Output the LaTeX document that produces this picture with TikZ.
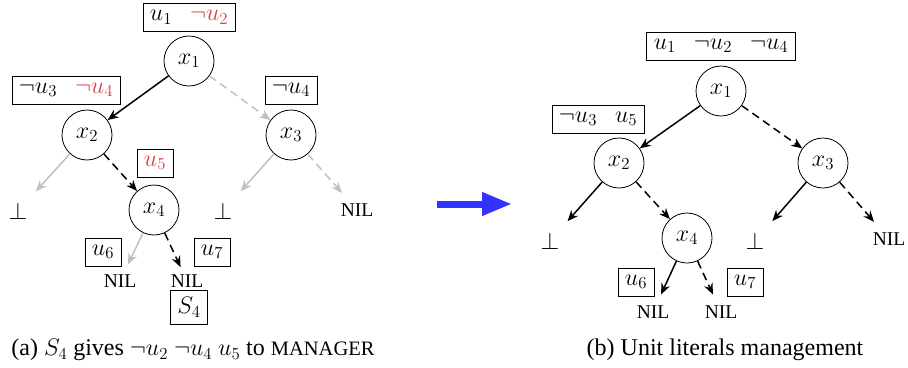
\documentclass[tikz,border=0pt]{standalone}
\usepackage{fix-cm}
\usepackage[no-math]{fontspec}
\setmainfont{Liberation Serif}
\usetikzlibrary{arrows.meta}
\definecolor{myred}{RGB}{214,64,72}
\definecolor{mygray}{RGB}{192,192,192}
\definecolor{myblue}{RGB}{51,51,255}
\newcommand\smallcapsfake[1]{{\fontsize{19.5}{22}\selectfont #1}}
\newcommand\gapsp{\hspace{0.75em}}
\begin{document}
\begin{tikzpicture}[x=1pt,y=-1pt,
  font=\fontsize{24}{28}\selectfont,
  var/.style={circle,draw,line width=0.8pt,minimum size=50pt,inner sep=0pt},
  lit/.style={draw,line width=0.8pt,inner xsep=7pt,inner ysep=7pt},
  leaf/.style={inner sep=0pt},
  edge/.style={line width=1.5pt,-{Stealth[length=11pt,width=9pt]}},
  hi/.style={edge,mygray},
  dsh/.style={dash pattern=on 8pt off 5pt},
  ]
\useasboundingbox (0,0) rectangle (908,367);
% ---------- left tree ----------
\node[lit] (b1) at (189,17.5) {$u_1\gapsp\textcolor{myred}{\neg u_2}$};
\node[var] (x1) at (189,61) {$x_1$};
\node[lit] (b2) at (66,90) {$\neg u_3\gapsp\textcolor{myred}{\neg u_4}$};
\node[var] (x2) at (87,135) {$x_2$};
\node[lit] (b3) at (291,90) {$\neg u_4$};
\node[var] (x3) at (291,135) {$x_3$};
\node[lit] (b5) at (155,163) {$\textcolor{myred}{u_5}$};
\node[var] (x4) at (154,210) {$x_4$};
\node[leaf] (la) at (18,211) {$\bot$};
\node[leaf] (lb) at (223,211) {$\bot$};
\node[leaf] (lc) at (357,210) {\smallcapsfake{NIL}};
\node[lit] (b6) at (103,252) {$u_6$};
\node[lit] (b7) at (212,252) {$u_7$};
\node[leaf] (ld) at (120,281) {\smallcapsfake{NIL}};
\node[leaf] (le) at (187,281) {\smallcapsfake{NIL}};
\node[lit] (s4) at (189,307) {$S_4$};
\node (capa) at (193,350) {(a) $S_4$ gives $\neg u_2$ $\neg u_4$ $u_5$ to {\fontsize{20.5}{22}\selectfont MANAGER}};
\draw[edge] (x1) -- (x2);
\draw[hi,dsh] (x1) -- (x3);
\draw[hi,shorten >=15pt] (x2) -- (la);
\draw[edge,dsh] (x2) -- (x4);
\draw[hi,shorten >=15pt] (x3) -- (lb);
\draw[hi,dsh,shorten >=14pt] (x3) -- (lc);
\draw[hi,shorten >=11pt] (x4) -- (ld);
\draw[edge,dsh,shorten >=8pt] (x4) -- (le);
% ---------- arrow ----------
\coordinate (ba) at (437,204);
\coordinate (bb) at (512,204);
\draw[myblue,line width=7pt,-{Triangle[length=30pt,width=22pt]}] (ba) -- (bb);
% ---------- right tree ----------
\node[lit] (B1) at (721,46) {$u_1\gapsp\neg u_2\gapsp\neg u_4$};
\node[var] (X1) at (721,91) {$x_1$};
\node[lit] (B2) at (598,119) {$\neg u_3\gapsp u_5$};
\node[var] (X2) at (619,163) {$x_2$};
\node[var] (X3) at (823,163) {$x_3$};
\node[var] (X4) at (687,238) {$x_4$};
\node[leaf] (La) at (550,241) {$\bot$};
\node[leaf] (Lb) at (755,241) {$\bot$};
\node[leaf] (Lc) at (889,239) {\smallcapsfake{NIL}};
\node[lit] (B6) at (636,282) {$u_6$};
\node[lit] (B7) at (745,282) {$u_7$};
\node[leaf] (Ld) at (653,312) {\smallcapsfake{NIL}};
\node[leaf] (Le) at (721,312) {\smallcapsfake{NIL}};
\node (capb) at (725,350) {(b) Unit literals management};
\draw[edge] (X1) -- (X2);
\draw[edge,dsh] (X1) -- (X3);
\draw[edge,shorten >=15pt] (X2) -- (La);
\draw[edge,dsh] (X2) -- (X4);
\draw[edge,shorten >=15pt] (X3) -- (Lb);
\draw[edge,dsh,shorten >=14pt] (X3) -- (Lc);
\draw[edge,shorten >=12pt] (X4) -- (Ld);
\draw[edge,dsh,shorten >=12pt] (X4) -- (Le);
\end{tikzpicture}
\end{document}
